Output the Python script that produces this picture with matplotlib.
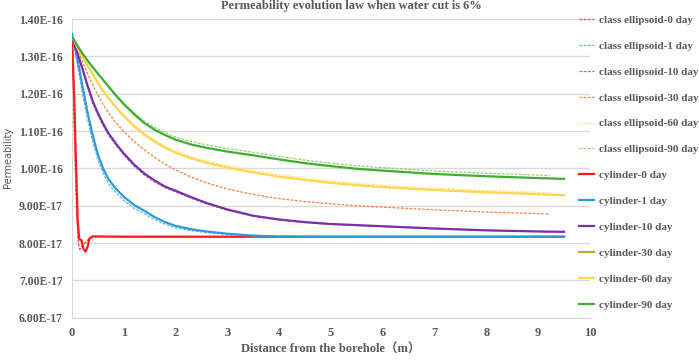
import numpy as np
import matplotlib
matplotlib.use("Agg")
import matplotlib.pyplot as plt
from matplotlib.ticker import FuncFormatter

plt.rcParams["font.family"] = ["Liberation Serif", "Noto Sans CJK SC", "DejaVu Sans"]
plt.rcParams["font.weight"] = "bold"

# values in units of 1e-16
x_cyl = [0, 0.05, 0.1, 0.15, 0.2, 0.3, 0.4, 0.5, 0.6, 0.7, 0.85, 1.0, 1.2, 1.4, 1.6,
         1.8, 2.0, 2.3, 2.6, 3.0, 3.5, 4.0, 4.5, 5.0, 5.5, 6.0, 7.0, 8.0, 9.0, 9.5]
x_ell = [0, 0.05, 0.1, 0.15, 0.2, 0.3, 0.4, 0.5, 0.6, 0.7, 0.85, 1.0, 1.2, 1.4, 1.6,
         1.8, 2.0, 2.3, 2.6, 3.0, 3.5, 4.0, 4.5, 5.0, 5.5, 6.0, 7.0, 8.0, 9.0, 9.23]

x_cyl0 = [0, 0.04, 0.08, 0.11, 0.14, 0.18, 0.22, 0.26, 0.3, 0.34, 0.4, 0.5,
          1, 2, 3, 4, 5, 6, 7, 8, 9, 9.5]
cyl_0 = [1.355, 1.2, 1.0, 0.86, 0.81, 0.808, 0.785, 0.777, 0.79, 0.813, 0.818, 0.8175,
         0.817, 0.817, 0.817, 0.817, 0.817, 0.817, 0.817, 0.817, 0.817, 0.817]
x_ell0 = [0, 0.03, 0.06, 0.09, 0.12, 0.15, 0.2, 0.3, 0.4, 0.5,
          1, 2, 3, 4, 5, 6, 7, 8, 9, 9.23]
ell_0 = [1.355, 1.2, 1.02, 0.88, 0.8, 0.783, 0.793, 0.808, 0.816, 0.8175,
         0.817, 0.817, 0.817, 0.817, 0.817, 0.817, 0.817, 0.817, 0.817, 0.817]

cyl_1 = [1.36, 1.33, 1.296, 1.26, 1.222, 1.15, 1.088, 1.037, 1.0, 0.972, 0.945, 0.924,
         0.902, 0.886, 0.869, 0.856, 0.846, 0.837, 0.831, 0.825, 0.82, 0.8175, 0.8168,
         0.8165, 0.8165, 0.8165, 0.8165, 0.8165, 0.8165, 0.8165]
ell_1 = [1.355, 1.318, 1.28, 1.242, 1.203, 1.132, 1.072, 1.023, 0.987, 0.96, 0.934, 0.914,
         0.893, 0.878, 0.862, 0.85, 0.841, 0.833, 0.828, 0.823, 0.819, 0.8172, 0.8166,
         0.8165, 0.8165, 0.8165, 0.8165, 0.8165, 0.8165, 0.8165]
cyl_10 = [1.353, 1.331, 1.31, 1.289, 1.268, 1.222, 1.18, 1.148, 1.12, 1.095, 1.066, 1.04,
          1.01, 0.986, 0.967, 0.951, 0.94, 0.923, 0.907, 0.89, 0.873, 0.863, 0.856, 0.851,
          0.848, 0.845, 0.839, 0.834, 0.831, 0.830]
ell_10 = [1.353, 1.33, 1.308, 1.286, 1.264, 1.217, 1.175, 1.143, 1.115, 1.09, 1.062, 1.036,
          1.006, 0.982, 0.963, 0.948, 0.937, 0.92, 0.905, 0.888, 0.872, 0.862, 0.855, 0.850,
          0.847, 0.844, 0.838, 0.834, 0.831, 0.830]
cyl_30 = []
ell_30 = [1.353, 1.335, 1.318, 1.302, 1.286, 1.254, 1.224, 1.196, 1.171, 1.149, 1.122, 1.099,
          1.072, 1.049, 1.029, 1.011, 0.996, 0.977, 0.961, 0.945, 0.93, 0.919, 0.911, 0.905,
          0.9, 0.896, 0.889, 0.883, 0.879, 0.877]
cyl_60 = [1.353, 1.339, 1.325, 1.312, 1.299, 1.275, 1.252, 1.229, 1.208, 1.189, 1.163, 1.140,
          1.113, 1.090, 1.071, 1.055, 1.042, 1.027, 1.015, 1.002, 0.989, 0.978, 0.969, 0.961,
          0.955, 0.950, 0.942, 0.936, 0.931, 0.928]
ell_60 = [1.353, 1.339, 1.325, 1.312, 1.299, 1.276, 1.253, 1.231, 1.21, 1.191, 1.166, 1.143,
          1.117, 1.094, 1.075, 1.06, 1.047, 1.032, 1.02, 1.007, 0.994, 0.983, 0.974, 0.966,
          0.96, 0.955, 0.947, 0.941, 0.936, 0.934]
cyl_90 = [1.353, 1.341, 1.330, 1.319, 1.308, 1.289, 1.271, 1.254, 1.237, 1.220, 1.195, 1.172,
          1.145, 1.121, 1.103, 1.089, 1.077, 1.064, 1.055, 1.045, 1.035, 1.024, 1.014, 1.006,
          0.999, 0.994, 0.985, 0.979, 0.974, 0.972]
ell_90 = [1.353, 1.341, 1.330, 1.319, 1.308, 1.289, 1.271, 1.254, 1.237, 1.221, 1.197, 1.175,
          1.149, 1.126, 1.109, 1.096, 1.084, 1.072, 1.063, 1.053, 1.043, 1.032, 1.022, 1.014,
          1.007, 1.002, 0.993, 0.987, 0.982, 0.981]

days = ["0", "1", "10", "30", "60", "90"]
ell_colors = ["#ff3b3b", "#5fb8ea", "#a569c8", "#f4823a", "#ffe38a", "#8fd468"]
cyl_colors = ["#ff1a1a", "#2e9ad8", "#7b2fa8", "#c9a227", "#ffd54a", "#3fae2f"]

GRAY = "#595959"

fig = plt.figure(figsize=(6.99, 3.6), dpi=100)
ax = fig.add_axes([0.103, 0.1175, 0.741, 0.8295])

ell_series = [(x_ell0, ell_0), (x_ell, ell_1), (x_ell, ell_10),
              (x_ell, ell_30), (x_ell, ell_60), (x_ell, ell_90)]
cyl_series = [(x_cyl0, cyl_0), (x_cyl, cyl_1), (x_cyl, cyl_10),
              ([], cyl_30), (x_cyl, cyl_60), (x_cyl, cyl_90)]

for (xs, ys), c, d in zip(ell_series, ell_colors, days):
    ax.plot(xs, np.array(ys) * 1e-16, color=c, lw=0.9, ls=(0, (2.2, 1.2)),
            label=f"class ellipsoid-{d} day", zorder=3)
for (xs, ys), c, d in zip(cyl_series, cyl_colors, days):
    ax.plot(xs, np.array(ys) * 1e-16, color=c, lw=1.6,
            label=f"cylinder-{d} day", zorder=4)

ax.set_xlim(0, 10)
ax.set_ylim(0.6e-16, 1.4e-16)
ax.set_xticks(range(0, 11))
ax.set_yticks(np.arange(6, 15) * 1e-17)
ax.yaxis.set_major_formatter(FuncFormatter(lambda v, p: f"{v:.2E}"))
ax.grid(axis="y", color="#d9d9d9", lw=1)
ax.set_axisbelow(True)
for s in ["top", "right"]:
    ax.spines[s].set_visible(False)
ax.spines["left"].set_color("#d9d9d9")
ax.spines["bottom"].set_color("#d9d9d9")
ax.tick_params(length=0, colors=GRAY)
ax.tick_params(axis="y", pad=6.5, labelsize=8.5)
ax.tick_params(axis="x", pad=7, labelsize=9)

ax.set_xlabel("Distance from the borehole（m）", fontsize=9, fontweight="bold",
              color=GRAY, labelpad=3)
fig.text(0.012, 0.564, "Permeability", rotation=90, fontsize=7, color=GRAY,
         family="DejaVu Sans", fontweight="normal", ha="center", va="center")
fig.text(0.503, 0.983, "Permeability evolution law when water cut is 6%",
         fontsize=9, color=GRAY, ha="center", va="center")

leg = fig.legend(loc="upper left", bbox_to_anchor=(0.828, 0.958), frameon=False,
                 prop={"size": 8, "weight": "bold"},
                 handlelength=1.35, handletextpad=0.45, labelspacing=1.45,
                 borderpad=0, borderaxespad=0)
for t in leg.get_texts():
    t.set_color(GRAY)

fig.savefig("out.png", dpi=100)
